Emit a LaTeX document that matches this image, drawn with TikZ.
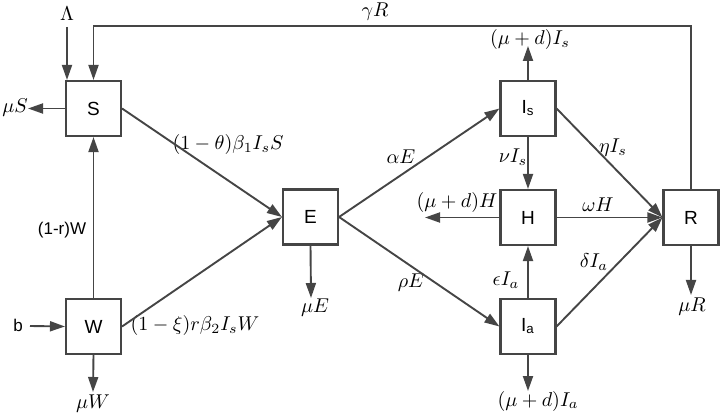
\documentclass[tikz,border=0pt]{standalone}
\usepackage{fontspec}
\newfontfamily\arialf{Liberation Sans}
\usetikzlibrary{arrows.meta}
\definecolor{lc}{HTML}{454545}
\begin{document}
\begin{tikzpicture}[x=0.5pt,y=-0.5pt,
  box/.style={draw=lc, line width=1.05pt, minimum size=27.5pt, inner sep=0pt, font=\arialf\fontsize{9.5}{11}\selectfont},
  arr/.style={draw=lc, line width=0.95pt, -{Triangle[length=7.5pt,width=5pt]}},
  lab/.style={inner sep=1pt, font=\fontsize{9.9}{11}\selectfont},
  slab/.style={inner sep=1pt, font=\arialf\fontsize{8.5}{10}\selectfont}]
\useasboundingbox (0,0) rectangle (722,416);
% boxes
\node[box] (S) at (93.5,108.5) {S};
\node[box] (W) at (93.5,326.5) {W};
\node[box] (E) at (310.5,217) {E};
\node[box] (Is) at (528,108.5) {I\textsubscript{s}};
\node[box] (H) at (528,217.5) {H};
\node[box] (Ia) at (528,326.5) {I\textsubscript{a}};
\node[box] (R) at (691,217.5) {R};
% labels
\node[lab] (Lam) at (67,14) {$\Lambda$};
\node[lab] (gR) at (375,12) {$\gamma R$};
\node[lab] (muS) at (15,108) {$\mu S$};
\node[lab] (lSE) at (228,145) {$(1-\theta)\beta_1 I_s S$};
\node[slab] (lWS) at (62,230) {(1-r)W};
\node[slab] (b) at (18,325) {b};
\node[lab] (lWE) at (195,326) {$(1-\xi) r\beta_2 I_s W$};
\node[lab] (muW) at (93,404) {$\mu W$};
\node[lab] (muE) at (315,308) {$\mu E$};
\node[lab] (aE) at (401,157) {$\alpha E$};
\node[lab] (rE) at (411,283) {$\rho E$};
\node[lab] (mIs) at (530,40) {$(\mu+d)I_s$};
\node[lab] (nIs) at (513,157) {$\nu I_s$};
\node[lab] (eIs) at (613,148) {$\eta I_s$};
\node[lab] (mH) at (457,203) {$(\mu+d)H$};
\node[lab] (wH) at (598,205) {$\omega H$};
\node[lab] (epIa) at (506,280) {$\epsilon I_a$};
\node[lab] (dIa) at (594,262) {$\delta I_a$};
\node[lab] (muR) at (692,307) {$\mu R$};
\node[lab] (mIa) at (538,401) {$(\mu+d)I_a$};
% free ends
\coordinate (lamA) at (67,27);
\coordinate (gtop) at (691,26);
\coordinate (bA) at (30,326);
\coordinate (muWA) at (93,392);
\coordinate (muEA) at (311,298);
\coordinate (IsA) at (528,46);
\coordinate (HA) at (425,217.5);
\coordinate (IaA) at (528,391);
\coordinate (RA) at (691,295);
\coordinate (SA) at (28,108.5);
% connectors
\draw[arr] (lamA) -- (lamA |- S.north);
\draw[arr] (R.north) -- (gtop) -| (S.north);
\draw[arr] (S.west) -- (SA);
\draw[arr] (S.east) -- (E.west);
\draw[arr] (W.east) -- (E.west);
\draw[arr] (W.north) -- (S.south);
\draw[arr] (bA) -- (W.west);
\draw[arr] (W.south) -- (muWA);
\draw[arr] (E.south) -- (muEA);
\draw[arr] (E.east) -- (Is.west);
\draw[arr] (E.east) -- (Ia.west);
\draw[arr] (Is.north) -- (IsA);
\draw[arr] (Is.south) -- (H.north);
\draw[arr] (Is.east) -- (R.west);
\draw[arr] (H.west) -- (HA);
\draw[arr] (H.east) -- (R.west);
\draw[arr] (Ia.north) -- (H.south);
\draw[arr] (Ia.east) -- (R.west);
\draw[arr] (Ia.south) -- (IaA);
\draw[arr] (R.south) -- (RA);
\end{tikzpicture}
\end{document}
